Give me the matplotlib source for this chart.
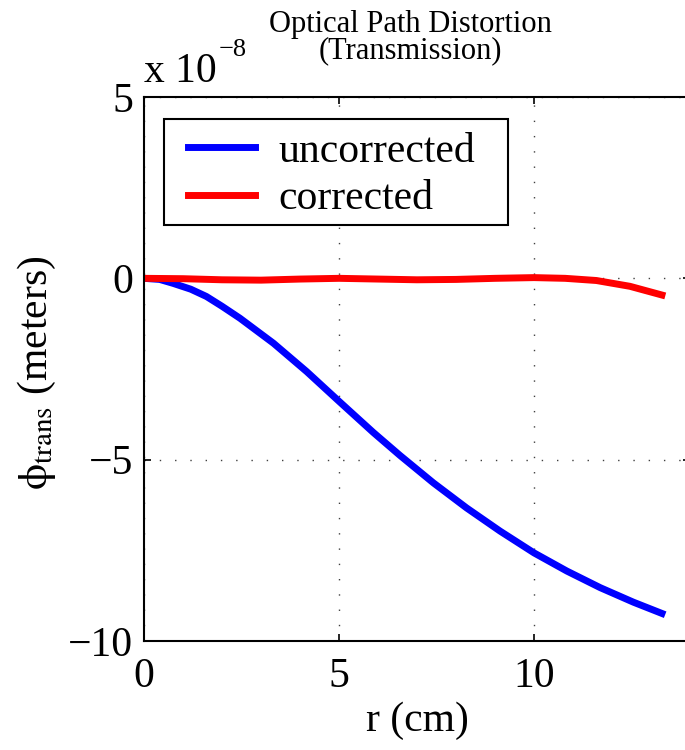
"""Optical path distortion (transmission), uncorrected vs corrected, MATLAB-style figure."""
import matplotlib
matplotlib.use("Agg")
import matplotlib.pyplot as plt
from matplotlib.patches import Rectangle

# radius (cm) and distortion (units of 1e-8 m)
r_uncorrected = [0.0, 0.4, 0.75, 1.2, 1.6, 2.0, 2.46, 3.32, 4.17, 5.0, 5.88,
                 6.56, 7.42, 8.27, 9.13, 10.0, 10.84, 11.7, 12.55, 13.28]
phi_uncorrected = [0.0, -0.03, -0.14, -0.30, -0.50, -0.77, -1.10, -1.79, -2.57,
                   -3.39, -4.25, -4.88, -5.64, -6.33, -6.97, -7.57, -8.07,
                   -8.53, -8.93, -9.24]

r_corrected = [0.0, 1.0, 2.0, 3.0, 4.0, 5.0, 6.0, 7.0, 8.0, 9.0, 10.0, 10.8,
               11.6, 12.46, 13.28]
phi_corrected = [0.0, -0.01, -0.04, -0.05, -0.02, 0.0, -0.02, -0.04, -0.03,
                 0.0, 0.02, 0.0, -0.06, -0.22, -0.46]

xticks = [0, 5, 10]
yticks = [-10, -5, 0, 5]

plt.rcParams["font.family"] = ["Liberation Serif", "DejaVu Serif"]
plt.rcParams["mathtext.fontset"] = "stix"
plt.rcParams["axes.unicode_minus"] = True

W, H = 546, 544  # axes size in pixels
fig = plt.figure(figsize=(6.85, 7.5), dpi=100)
ax = fig.add_axes([144 / 685, 109 / 750, W / 685, H / 750])

ax.plot(r_uncorrected, phi_uncorrected, color="blue", lw=5, label="uncorrected")
ax.plot(r_corrected, phi_corrected, color="red", lw=5, label="corrected")

ax.set_xlim(0, 14)
ax.set_ylim(-10, 5)
ax.set_xticks(xticks)
ax.set_yticks(yticks)
ax.grid(True, color="0.25", linestyle=(0, (1, 10)), linewidth=1.0)
ax.tick_params(direction="in", top=True, right=True, length=5, width=1.2,
               labelsize=30)
ax.tick_params(axis="x", pad=12)
ax.tick_params(axis="y", pad=8)
for sp in ax.spines.values():
    sp.set_linewidth(1.5)

ax.set_xlabel("r (cm)", fontsize=30, labelpad=4)
ax.set_ylabel(r"$\mathrm{\phi_{trans}}$ (meters)", fontsize=30)
ax.yaxis.set_label_coords(-0.158, 0.4926)

# MATLAB-style exponent label
ax.text(0.0, 1.0 + 15 / H, "x 10", transform=ax.transAxes,
        fontsize=30, ha="left", va="baseline")
ax.text((219 - 144) / W, 1.0 + 41 / H, "\u22128", transform=ax.transAxes,
        fontsize=19, ha="left", va="baseline")
ax.set_title("Optical Path Distortion\n(Transmission)", fontsize=22,
             linespacing=0.85, pad=28, x=(410 - 144) / W)

# legend box drawn separately to get MATLAB's padding
ax.add_patch(Rectangle((20 / W, (641 - 225) / H), 344 / W, 106 / H,
                       transform=ax.transAxes, facecolor="white",
                       edgecolor="black", linewidth=1.5, zorder=4))
leg = ax.legend(loc="upper left", bbox_to_anchor=(44 / W, 1 - 35 / H),
                borderaxespad=0, borderpad=0, fontsize=30, handlelength=1.6,
                handletextpad=0.58, labelspacing=0.22, frameon=False)
leg.set_zorder(5)

fig.savefig("out.png", dpi=100)
